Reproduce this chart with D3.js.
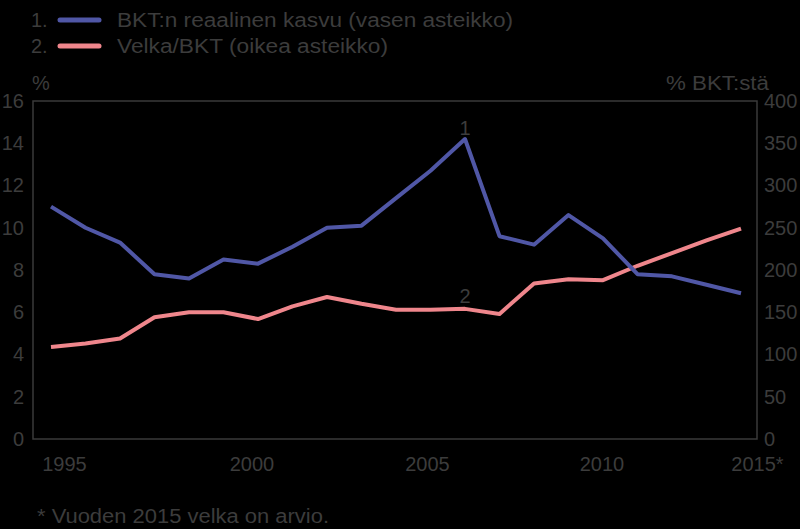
<!DOCTYPE html>
<html>
<head>
<meta charset="utf-8">
<script src="https://cdn.jsdelivr.net/npm/d3@7"></script>
<style>
  html, body { margin: 0; padding: 0; background: #000; }
  svg { display: block; }
  text { font-family: "Liberation Sans", Arial, sans-serif; fill: #3c3c3c; }
</style>
</head>
<body>
<svg id="chart" width="800" height="529"></svg>
<script>
// ---- data ----
const years = [1995,1996,1997,1998,1999,2000,2001,2002,2003,2004,2005,2006,2007,2008,2009,2010,2011,2012,2013,2014,2015];
const gdpGrowth = [11.0,10.0,9.3,7.8,7.6,8.5,8.3,9.1,10.0,10.1,11.4,12.7,14.2,9.6,9.2,10.6,9.5,7.8,7.7,7.3,6.9];
const debtToGdp = [109,113,119,144,150,150,142,157,168,160,153,153,154,148,184,189,188,205,220,235,249];
const xTickYears = [1995,2000,2005,2010,2015];
const xTickLabels = ["1995","2000","2005","2010","2015*"];
const leftTicks = [0,2,4,6,8,10,12,14,16];
const rightTicks = [0,50,100,150,200,250,300,350,400];
const seriesNames = ["BKT:n reaalinen kasvu (vasen asteikko)", "Velka/BKT (oikea asteikko)"];
const seriesNums = ["1.", "2."];
const leftUnit = "%";
const rightUnit = "% BKT:stä";
const footnote = "* Vuoden 2015 velka on arvio.";

// ---- layout ----
const plot = { left: 33, right: 757, top: 101, bottom: 439 };
const colors = ["#5057a6", "#ef868c"];
const svg = d3.select("#chart");
svg.append("rect").attr("width", 800).attr("height", 529).attr("fill", "#000");

const x = d3.scaleLinear().domain([1995, 2015]).range([51, 741]);
const yL = d3.scaleLinear().domain([0, 16]).range([plot.bottom, plot.top]);
const yR = d3.scaleLinear().domain([0, 400]).range([plot.bottom, plot.top]);

// frame
svg.append("rect")
  .attr("x", plot.left).attr("y", plot.top)
  .attr("width", plot.right - plot.left).attr("height", plot.bottom - plot.top)
  .attr("fill", "none").attr("stroke", "#3a3a3a").attr("stroke-width", 1.5);

// left axis
const gL = svg.append("g").attr("transform", `translate(${plot.left},0)`)
  .call(d3.axisLeft(yL).tickValues(leftTicks).tickSize(0).tickPadding(9));
gL.select(".domain").remove();
gL.selectAll("text").style("font-size", "20px").attr("fill", "#3c3c3c");

// right axis
const gR = svg.append("g").attr("transform", `translate(${plot.right},0)`)
  .call(d3.axisRight(yR).tickValues(rightTicks).tickSize(0).tickPadding(7));
gR.select(".domain").remove();
gR.selectAll("text").style("font-size", "20px").attr("fill", "#3c3c3c");

// bottom axis labels
const labelDx = [13, 28, 31, 33, 16];
const gB = svg.append("g").attr("transform", `translate(0,${plot.bottom})`)
  .call(d3.axisBottom(x).tickValues(xTickYears).tickSize(0).tickPadding(18)
        .tickFormat((d, i) => xTickLabels[i]));
gB.select(".domain").remove();
gB.selectAll("text").style("font-size", "20px").attr("fill", "#3c3c3c")
  .attr("dx", (d, i) => labelDx[i]);

// lines
const lineL = d3.line().x((d, i) => x(years[i])).y(d => yL(d));
const lineR = d3.line().x((d, i) => x(years[i])).y(d => yR(d));
svg.append("path").datum(debtToGdp).attr("d", lineR)
  .attr("fill", "none").attr("stroke", colors[1]).attr("stroke-width", 4).attr("stroke-linejoin", "round");
svg.append("path").datum(gdpGrowth).attr("d", lineL)
  .attr("fill", "none").attr("stroke", colors[0]).attr("stroke-width", 4).attr("stroke-linejoin", "round");

// line labels
svg.append("text").attr("x", x(2007)).attr("y", yL(14.2) - 4).attr("text-anchor", "middle")
  .style("font-size", "20px").text("1");
svg.append("text").attr("x", x(2007)).attr("y", yR(154) - 6).attr("text-anchor", "middle")
  .style("font-size", "20px").text("2");

// legend
const legendLen = [396, 271];
seriesNames.forEach((name, i) => {
  const cy = 20 + i * 26;
  svg.append("text").attr("x", 31).attr("y", cy + 7).style("font-size", "20px").text(seriesNums[i]);
  svg.append("line").attr("x1", 60).attr("x2", 99).attr("y1", cy).attr("y2", cy)
    .attr("stroke", colors[i]).attr("stroke-width", 5).attr("stroke-linecap", "round");
  svg.append("text").attr("x", 117).attr("y", cy + 7).style("font-size", "20px")
    .attr("textLength", legendLen[i]).attr("lengthAdjust", "spacingAndGlyphs").text(name);
});

// unit labels
svg.append("text").attr("x", 41).attr("y", 90).attr("text-anchor", "middle").style("font-size", "20px").text(leftUnit);
svg.append("text").attr("x", 666).attr("y", 90).style("font-size", "20px")
  .attr("textLength", 103).attr("lengthAdjust", "spacingAndGlyphs").text(rightUnit);

// footnote
svg.append("text").attr("x", 37).attr("y", 523).style("font-size", "20px")
  .attr("textLength", 292).attr("lengthAdjust", "spacingAndGlyphs").text(footnote);
</script>
</body>
</html>
